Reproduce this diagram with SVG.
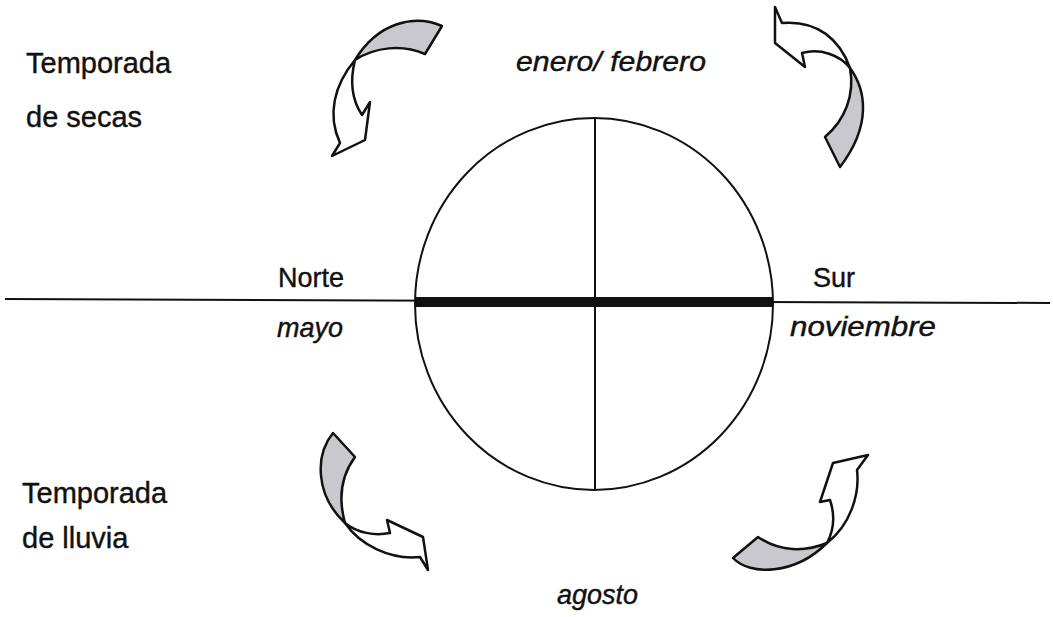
<svg xmlns="http://www.w3.org/2000/svg" width="1053" height="617" viewBox="0 0 1053 617">
<style>
.t{font-family:"Liberation Sans",Arial,sans-serif;font-size:27px;fill:#111;stroke:#111;stroke-width:0.4}
.b{font-size:29px}
.i{font-style:italic}
.ln{stroke:#111;stroke-width:2;fill:none}
.sh{fill:#c9c9cd;stroke:#111;stroke-width:2.5;stroke-linejoin:round}
.wh{fill:#fff;stroke:#111;stroke-width:2.5;stroke-linejoin:round}
</style>
<rect width="1053" height="617" fill="#fff"/>
<g id="connectors">
<line class="ln" x1="5" y1="299" x2="1050" y2="303"/>
<line x1="415" y1="302" x2="773" y2="302" stroke="#111" stroke-width="10"/>
<line class="ln" x1="595" y1="118" x2="595" y2="490"/>
</g>
<g id="circle">
<ellipse class="ln" cx="594" cy="304" rx="179" ry="186"/>
</g>
<g id="labels">
<text class="t b" x="26" y="73">Temporada</text>
<text class="t b" x="26" y="127">de secas</text>
<text class="t i" x="516" y="71" textLength="190" lengthAdjust="spacingAndGlyphs">enero/ febrero</text>
<text class="t" x="278" y="287">Norte</text>
<text class="t" x="813" y="287">Sur</text>
<text class="t i" x="277" y="337">mayo</text>
<text class="t i" x="790" y="336" textLength="146" lengthAdjust="spacingAndGlyphs">noviembre</text>
<text class="t b" x="22" y="503">Temporada</text>
<text class="t b" x="22" y="548">de lluvia</text>
<text class="t i" x="557" y="604">agosto</text>
</g>
<g id="arrow-top-left">
<path class="sh" d="M442,26 C415,14 378,22 355,60 C375,47 402,44 425,54 Z"/>
<path class="wh" d="M355,60 C334,85 327,115 340,143 L332,156 L365,140 L370,102 L362,115 C352,100 350,80 355,60 Z"/>
</g>
<g id="arrow-top-right">
<path class="wh" d="M850,68 C840,40 818,20 782,23 L775,7 L775,43 L805,67 L802,53 C820,48 840,55 850,68 Z"/>
<path class="sh" d="M850,68 C866,90 872,125 840,167 L825,137 C845,120 855,95 850,68 Z"/>
</g>
<g id="arrow-bottom-left">
<path class="sh" d="M333,433 C315,455 315,495 345,523 C340,505 338,480 355,457 Z"/>
<path class="wh" d="M345,523 C360,545 390,560 420,557 L428,570 L423,537 L387,520 L390,533 C375,536 357,533 345,523 Z"/>
</g>
<g id="arrow-bottom-right">
<path class="sh" d="M733,558 C750,576 795,575 827,543 C805,552 780,552 758,537 Z"/>
<path class="wh" d="M827,543 C850,525 860,495 857,470 L868,455 L833,463 L820,502 L830,500 C835,515 834,530 827,543 Z"/>
</g>
</svg>
